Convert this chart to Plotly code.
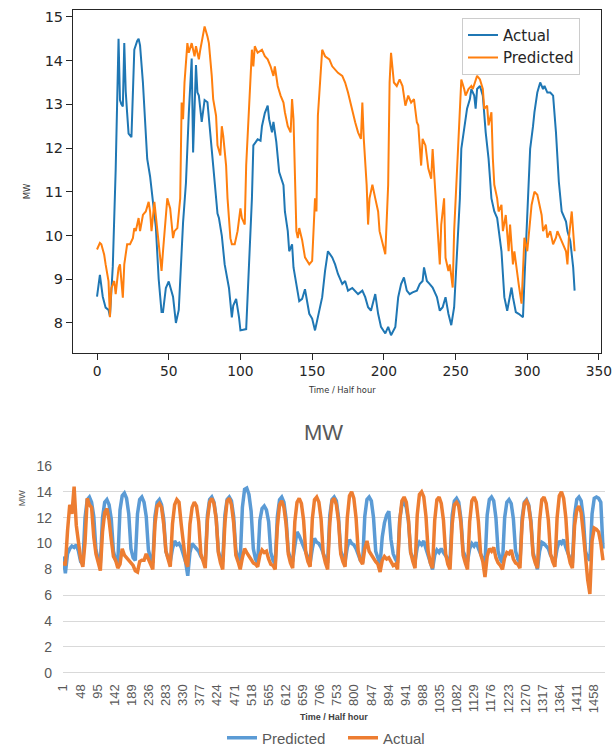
import plotly.graph_objects as go

# ---------------- Top chart data (matplotlib-style) ----------------
top_actual_t = [0, 2, 4, 6, 8, 9, 11, 13, 15, 16, 17, 18, 19, 20, 21, 22, 24, 25, 26, 28, 29, 30, 32, 35, 37, 39, 41, 43,
                45, 46, 48, 50, 53, 55, 57, 60, 62, 64, 65, 66, 67, 68, 69, 70, 71, 73, 75, 77, 79, 81, 84, 85, 87, 89,
                92, 94, 95, 97, 99, 100, 104, 106, 108, 109, 112, 114, 115, 117, 119, 120, 122, 123, 125, 127, 130, 131,
                133, 134, 136, 137, 139, 141, 143, 145, 148, 150, 152, 154, 157, 159, 161, 164, 166, 168, 171, 173, 175,
                178, 180, 182, 185, 187, 189, 191, 194, 196, 198, 201, 203, 205, 208, 210, 212, 214, 216, 218, 220, 223,
                225, 227, 228, 230, 232, 234, 237, 239, 241, 243, 245, 247, 249, 251, 253, 254, 256, 258, 260, 261, 263,
                264, 265, 267, 269, 271, 273, 275, 277, 279, 282, 284, 286, 287, 289, 290, 292, 294, 297, 298, 300, 302,
                304, 305, 307, 309, 311, 312, 314, 316, 318, 320, 322, 324, 327, 328, 330, 332, 333]
top_actual_v = [8.6, 9.1, 8.6, 8.35, 8.3, 8.15, 9.3, 11.5, 14.5, 13.1, 13.0, 12.95, 14.4, 13.3, 12.8, 12.33, 12.25, 13.4,
                14.25, 14.45, 14.5, 14.35, 13.5, 11.75, 11.35, 10.77, 10.2, 9.0,
                8.25, 8.25, 8.8, 8.95, 8.6, 8.0, 8.3, 10.3, 11.2, 12.8, 13.6, 14.05, 11.9, 13.2, 13.9, 13.27, 13.2, 12.6,
                13.1, 13.05, 12.4, 11.6, 10.5, 10.4, 10.0, 9.34,
                8.8, 8.13, 8.4, 8.55, 8.13, 7.83, 7.86, 9.34, 10.85, 12.06, 12.2, 12.17, 12.5, 12.8, 12.97, 12.66, 12.36,
                12.6, 12.14, 11.45, 11.15, 10.55,
                10.1, 9.64, 9.8, 9.27, 8.9, 8.5, 8.55, 8.77, 8.21, 8.1, 7.83, 8.13, 8.59, 9.19, 9.64, 9.5, 9.34, 9.12,
                8.89, 8.96, 8.74,
                8.8, 8.74, 8.66, 8.74, 8.59, 8.36, 8.28, 8.66, 8.21, 7.91, 7.76, 7.91, 7.72, 7.91, 8.59, 8.89, 9.04, 8.74,
                8.66, 8.7, 8.74,
                8.89, 8.96, 9.27, 8.96, 8.89, 8.81, 8.59, 8.28, 8.36, 8.59, 8.21, 7.95, 8.36, 9.49, 10.85, 11.98, 12.5,
                12.9, 13.12, 13.35, 13.2,
                12.9, 13.35, 13.42, 13.2, 12.36, 11.76, 10.85, 10.55, 10.4, 9.64, 8.59, 8.28, 8.44, 8.81, 8.59, 8.25,
                8.21, 8.13, 8.96, 10.47, 11.98,
                12.5, 12.82, 13.27, 13.5, 13.35, 13.42, 13.27, 13.27, 13.2, 12.36, 11.23, 10.55, 10.32, 10.1, 9.87, 9.27,
                8.74]

top_pred_t = [0, 2, 3, 5, 6, 8, 9, 10, 12, 13, 15, 16, 18, 19, 21, 23, 25, 26, 27, 29, 30, 32, 34, 36, 37, 38, 40, 41,
              43, 45, 46, 48, 49, 51, 53, 54, 56, 58, 59, 60, 61, 63, 64, 66, 68, 69, 71, 72, 74, 75, 77, 78, 80, 81,
              83, 84, 86, 87, 88, 90, 91, 93, 94, 96, 98, 100, 101, 103, 104, 106, 108, 109, 110, 112, 115, 117, 119,
              121, 123, 124, 126, 128, 130, 131, 133, 135, 136, 137, 138, 139, 140, 141, 143, 145, 148, 150, 152, 153,
              154, 156, 157, 159, 162, 164, 166, 168, 171, 173, 175, 178, 180, 182, 184, 185, 186, 188, 189, 190, 192,
              194, 196, 197, 199, 201, 203, 204, 205, 207, 209, 211, 213, 215, 217, 219, 221, 223, 224, 226, 227, 229,
              231, 233, 234, 236, 238, 239, 240, 242, 243, 245, 246, 248, 249, 251, 253, 254, 256, 257, 259, 261, 262,
              264, 265, 267, 269, 270, 272, 273, 275, 276, 277, 279, 280, 282, 283, 285, 287, 288, 290, 291, 293, 294,
              296, 297, 298, 300, 301, 303, 305, 307, 308, 310, 311, 313, 314, 316, 318, 320, 321, 323, 325, 327, 328,
              329, 331, 332, 333]
top_pred_v = [9.68, 9.83, 9.8, 9.56, 9.34, 8.96, 8.13, 8.8, 8.96, 8.66, 9.26, 9.34, 8.58, 9.34, 9.8, 9.8, 9.94, 10.17,
              10.1, 10.4, 10.1, 10.47, 10.55, 10.77, 10.55, 10.1, 10.77, 10.47,
              9.87, 9.19, 9.64, 10.55, 10.85, 10.62, 9.94, 10.1, 10.17, 10.85, 13.04, 12.66, 13.5, 14.4, 14.18, 14.4,
              14.1, 14.33, 14.03, 14.25, 14.63, 14.78, 14.55, 14.4, 13.65, 13.12,
              12.74, 12.06, 11.83, 12.5, 12.28, 11.6, 10.85, 9.94, 9.8, 9.8, 10.1, 10.62, 10.4, 10.25, 11.6, 13.12,
              14.25, 13.87, 14.33, 14.18, 14.25, 14.1, 14.03,
              13.87, 13.65, 13.87, 13.42, 13.2, 13.04, 12.82, 12.5, 12.36, 13.12, 12.66, 11.6, 10.1, 9.94, 10.17, 9.9,
              9.5, 9.34, 9.42, 10.85, 10.55,
              12.74, 13.87, 14.25, 14.1, 14.03, 13.87, 13.8, 13.72, 13.65, 13.5, 13.27, 12.82, 12.59, 12.36, 12.21,
              13.04, 12.21, 11.16, 10.25, 10.85, 11.16,
              10.85, 10.55, 10.1, 9.8, 9.57, 11.16, 13.5, 14.18, 13.5, 13.42, 13.57, 13.42, 12.97, 13.2, 13.04, 13.12,
              12.59, 12.52, 11.6, 12.21, 12.06,
              11.53, 11.3, 11.98, 10.85, 9.64, 9.34, 10.25, 10.85, 9.49, 9.19, 9.34, 8.81, 10.1, 11.6, 13.12, 13.57,
              13.35, 13.2, 13.35, 13.42, 13.35,
              13.57, 13.65, 13.57, 13.35, 12.9, 12.97, 12.52, 12.82, 11.76, 11.16, 10.85, 10.55, 10.7, 10.1, 10.47,
              9.64, 10.25, 9.34, 9.64, 9.04, 8.89,
              8.44, 9.12, 9.95, 9.64, 9.95, 10.7, 11.0, 10.93, 10.78, 10.47, 10.1, 10.25, 9.95, 10.1, 9.8, 9.95, 10.1,
              9.95, 9.8, 9.64, 9.34,
              9.95, 10.55, 10.1, 9.64]
top_xticks = [0, 50, 100, 150, 200, 250, 300, 350]
top_yticks = [8, 9, 10, 11, 12, 13, 14, 15]

# ---------------- Bottom chart data (Excel-style), sampled every 6 half hours ----------------
bottom_predicted = [
    9.0, 7.7, 9.2, 9.6, 9.8, 9.7, 9.9, 9.4,        # day 0
    8.6, 8.4, 12.0, 13.4, 13.6, 13.2, 12.1, 9.5,
    8.8, 8.5, 12.0, 13.2, 13.4, 13.0, 11.9, 9.4,
    8.7, 8.6, 12.6, 13.7, 13.9, 13.5, 12.3, 9.6,
    8.9, 8.7, 12.3, 13.4, 13.6, 13.2, 12.1, 9.5,
    8.8, 8.5, 12.1, 13.2, 13.4, 13.0, 11.9, 9.4,   # day 5
    8.9, 8.6, 9.6, 10.2, 9.9, 10.0, 9.7, 9.2,
    8.6, 7.5, 9.3, 10.0, 9.8, 9.6, 9.4, 9.0,
    8.7, 8.5, 12.2, 13.4, 13.6, 13.2, 12.0, 9.4,
    8.8, 8.6, 12.2, 13.4, 13.6, 13.3, 12.1, 9.5,
    8.9, 8.7, 12.8, 14.2, 14.3, 13.8, 12.5, 9.6,   # day 10
    8.8, 8.5, 11.8, 12.7, 12.9, 12.6, 11.7, 9.3,
    8.7, 8.4, 12.1, 13.4, 13.6, 13.2, 11.9, 9.4,
    8.8, 8.6, 9.8, 10.9, 10.6, 10.2, 9.8, 9.3,
    8.9, 8.5, 9.6, 10.4, 10.1, 10.0, 9.7, 9.2,
    8.8, 8.5, 12.2, 13.4, 13.6, 13.3, 12.0, 9.4,   # day 15
    8.9, 8.6, 9.7, 10.3, 10.0, 9.9, 9.6, 9.1,
    8.7, 8.5, 12.1, 13.4, 13.6, 13.3, 12.0, 9.4,
    8.8, 8.4, 10.5, 11.6, 12.2, 12.5, 10.3, 9.2,
    8.8, 8.5, 11.9, 13.0, 13.2, 12.8, 11.7, 9.3,
    8.9, 8.6, 9.7, 10.1, 9.9, 10.2, 9.6, 9.1,      # day 20
    8.7, 8.0, 9.1, 9.5, 9.3, 9.6, 9.3, 9.0,
    8.8, 8.6, 12.2, 13.3, 13.5, 13.2, 11.9, 9.4,
    8.9, 8.6, 9.6, 10.0, 9.8, 10.1, 9.6, 9.2,
    8.7, 8.4, 12.2, 13.4, 13.6, 13.3, 12.0, 9.4,
    8.8, 8.5, 12.0, 13.2, 13.4, 13.1, 11.9, 9.4,   # day 25
    8.8, 8.5, 12.0, 13.2, 13.4, 13.0, 11.8, 9.3,
    8.7, 8.0, 9.4, 10.1, 10.0, 9.8, 9.6, 9.1,
    8.9, 8.6, 9.6, 10.2, 10.0, 10.3, 9.7, 9.2,
    8.8, 8.5, 12.2, 13.4, 13.6, 13.3, 12.0, 9.4,
    8.9, 8.7, 12.3, 13.5, 13.6, 13.5, 13.2, 9.6,   # day 30
]
bottom_actual = [
    8.6, 8.3, 11.0, 13.0, 12.3, 14.4, 11.4, 9.8,   # day 0
    8.8, 8.2, 10.1, 13.5, 13.0, 12.8, 10.5, 9.2,
    8.5, 7.9, 10.9, 12.4, 12.7, 11.8, 10.3, 9.0,
    8.7, 8.1, 8.4, 9.6, 9.1, 8.9, 8.7, 8.6,
    8.3, 7.9, 7.8, 8.6, 8.7, 8.7, 9.2, 8.8,
    8.3, 8.0, 11.5, 12.9, 13.1, 12.8, 11.5, 9.4,   # day 5
    8.8, 8.2, 11.5, 13.0, 13.4, 13.2, 11.5, 9.9,
    8.6, 8.2, 11.5, 12.8, 13.2, 12.9, 11.7, 9.2,
    8.7, 8.1, 11.8, 13.2, 13.5, 13.1, 11.9, 9.3,
    8.5, 8.0, 11.6, 13.3, 13.5, 13.0, 11.6, 9.1,
    8.6, 8.0, 8.9, 9.6, 9.3, 9.0, 8.7, 8.5,        # day 10
    8.4, 8.2, 9.1, 9.5, 9.3, 9.4, 8.8, 8.4,
    8.3, 8.0, 11.3, 13.0, 13.3, 12.8, 11.5, 9.2,
    8.5, 8.1, 11.7, 13.2, 13.5, 13.1, 11.8, 9.3,
    8.6, 8.2, 11.9, 13.4, 13.6, 13.2, 11.9, 9.2,
    8.5, 8.0, 11.6, 13.3, 13.5, 13.0, 11.7, 9.2,   # day 15
    8.6, 8.2, 12.0, 13.7, 14.0, 13.5, 12.0, 9.4,
    8.7, 8.4, 9.6, 10.2, 9.4, 9.1, 8.8, 8.6,
    8.4, 7.8, 8.7, 9.0, 8.8, 8.9, 8.6, 8.3,
    8.4, 8.0, 11.8, 13.3, 13.6, 13.2, 11.8, 9.3,
    8.6, 8.1, 12.2, 13.8, 14.0, 13.6, 12.1, 9.4,   # day 20
    8.5, 8.1, 11.8, 13.4, 13.6, 13.1, 11.8, 9.2,
    8.4, 8.0, 11.5, 13.0, 13.2, 12.9, 11.6, 9.1,
    8.5, 8.0, 11.7, 13.3, 13.6, 13.2, 11.7, 9.2,
    8.6, 7.4, 9.0, 9.6, 9.4, 9.7, 8.9, 8.5,
    8.3, 8.0, 8.9, 9.3, 9.2, 9.5, 8.8, 8.5,        # day 25
    8.4, 8.1, 11.6, 13.1, 13.3, 12.9, 11.6, 9.1,
    8.5, 8.1, 11.8, 13.4, 13.6, 13.1, 11.8, 9.2,
    8.6, 8.2, 12.0, 13.7, 14.0, 13.5, 12.0, 9.3,
    8.5, 8.1, 11.4, 12.6, 12.9, 12.4, 10.8, 8.8,
    7.2, 6.1, 10.2, 11.2, 11.1, 10.9, 10.0, 8.7,   # day 30
]
bottom_t = list(range(1, 1 + 6 * len(bottom_actual), 6))
bottom_xticks = list(range(1, 1459, 47))
bottom_yticks = [0, 2, 4, 6, 8, 10, 12, 14, 16]

W, H = 613, 755
MPL_BLUE, MPL_ORANGE = "#1f77b4", "#ff7f0e"
XL_BLUE, XL_ORANGE = "#5B9BD5", "#ED7D31"
XL_TEXT = "#595959"

fig = go.Figure()
fig.add_trace(go.Scatter(x=top_actual_t, y=top_actual_v, mode="lines", name="Actual",
                         line=dict(color=MPL_BLUE, width=2), xaxis="x", yaxis="y", legend="legend"))
fig.add_trace(go.Scatter(x=top_pred_t, y=top_pred_v, mode="lines", name="Predicted",
                         line=dict(color=MPL_ORANGE, width=2), xaxis="x", yaxis="y", legend="legend"))
fig.add_trace(go.Scatter(x=bottom_t, y=bottom_predicted, mode="lines", name="Predicted",
                         line=dict(color=XL_BLUE, width=3.5), xaxis="x2", yaxis="y2", legend="legend2"))
fig.add_trace(go.Scatter(x=bottom_t, y=bottom_actual, mode="lines", name="Actual",
                         line=dict(color=XL_ORANGE, width=3.5), xaxis="x2", yaxis="y2", legend="legend2"))

xl_font = dict(family="Liberation Sans", size=13, color=XL_TEXT)

fig.update_layout(
    width=W, height=H, margin=dict(l=0, r=0, t=0, b=0, pad=0), autosize=False,
    paper_bgcolor="white", plot_bgcolor="white",
    xaxis=dict(domain=[73 / W, 601 / W], range=[-16.75, 351.4], anchor="y", automargin=False,
               tickmode="array", tickvals=top_xticks, ticktext=[str(v) for v in top_xticks],
               ticklabeloverflow="allow",
               showline=True, mirror=True, linecolor="#262626", linewidth=1,
               ticks="outside", ticklen=6, tickcolor="#262626", showgrid=False, zeroline=False,
               tickfont=dict(family="DejaVu Sans", size=13.8, color="#262626")),
    yaxis=dict(domain=[1 - 356 / H, 1 - 10 / H], range=[7.32, 15.16], anchor="x", automargin=False,
               tickmode="array", tickvals=top_yticks, ticktext=[str(v) for v in top_yticks],
               showline=True, mirror=True, linecolor="#262626", linewidth=1,
               ticks="outside", ticklen=6, tickcolor="#262626", showgrid=False, zeroline=False,
               tickfont=dict(family="DejaVu Sans", size=14.5, color="#262626")),
    xaxis2=dict(domain=[63 / W, 605 / W], range=[0.5, 1488.5], anchor="y2", automargin=False,
                tickmode="array", tickvals=bottom_xticks, ticktext=[str(v) for v in bottom_xticks],
                tickangle=-90, showline=False, showgrid=False, zeroline=False, ticks="",
                ticklabelstandoff=8, tickfont=xl_font),
    yaxis2=dict(domain=[1 - 679 / H, 1 - 470 / H], range=[0, 16.03], anchor="x2", automargin=False,
                tickmode="array", tickvals=bottom_yticks, ticktext=[str(v) for v in bottom_yticks],
                showline=False, showgrid=True, gridcolor="#D9D9D9", gridwidth=1,
                zeroline=True, zerolinecolor="#D9D9D9", zerolinewidth=1, ticks="",
                ticklabelstandoff=10, tickfont=dict(family="Liberation Sans", size=14, color=XL_TEXT)),
    legend=dict(x=462 / W, y=1 - 18 / H, xanchor="left", yanchor="top",
                bordercolor="#cccccc", borderwidth=1, bgcolor="white",
                font=dict(family="DejaVu Sans", size=15, color="#262626"),
                itemwidth=30, tracegroupgap=0),
    legend2=dict(orientation="h", x=222 / W, y=10 / H, xanchor="left", yanchor="middle",
                 bgcolor="rgba(0,0,0,0)", font=dict(family="Liberation Sans", size=15, color=XL_TEXT),
                 itemwidth=30, entrywidth=76, entrywidthmode="pixels"),
    annotations=[
        dict(text="MW", x=20 / W, y=1 - 183 / H, xref="paper", yref="paper", showarrow=False,
             textangle=-90, font=dict(family="DejaVu Sans", size=8.5, color="#333333")),
        dict(text="Time / Half hour", x=342 / W, y=1 - 394 / H, xref="paper", yref="paper", showarrow=False,
             font=dict(family="DejaVu Sans", size=8.3, color="#333333")),
        dict(text="MW", x=323 / W, y=1 - 437 / H, xref="paper", yref="paper", showarrow=False,
             font=dict(family="Liberation Sans", size=22, color=XL_TEXT)),
        dict(text="MW", x=15 / W, y=1 - 513 / H, xref="paper", yref="paper", showarrow=False,
             textangle=-90, font=dict(family="Liberation Sans", size=9, color=XL_TEXT)),
        dict(text="<b>Time / Half hour</b>", x=334 / W, y=1 - 731 / H, xref="paper", yref="paper", showarrow=False,
             font=dict(family="Liberation Sans", size=9, color="#404040")),
    ],
)

fig.write_html("out.html")
